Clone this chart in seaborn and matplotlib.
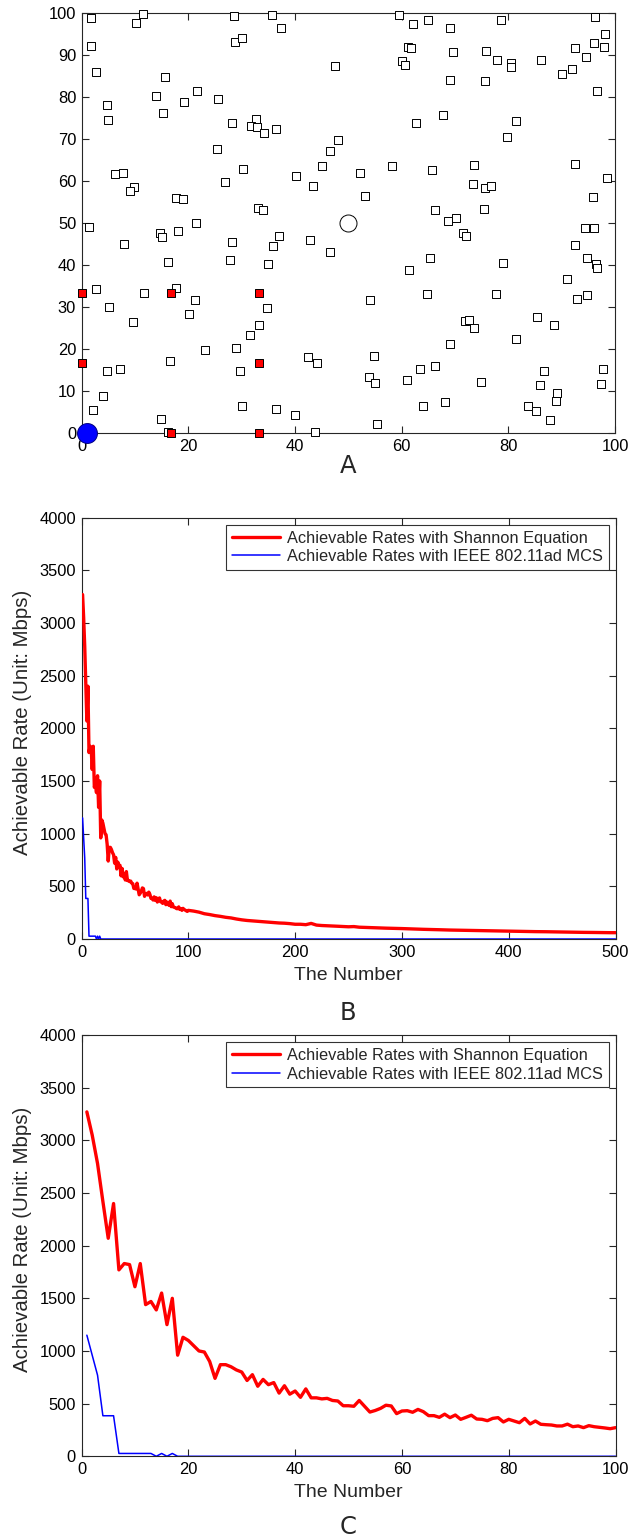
import numpy as np
import pandas as pd
import matplotlib
matplotlib.use("Agg")
import matplotlib.pyplot as plt
import seaborn as sns

# ---------------- Panel A data (node positions) ----------------
sq_x = [1.8, 11.4, 10.2, 28.5, 35.6, 37.3, 28.8, 30.0, 1.8, 47.5, 2.6, 15.7, 13.9, 21.6, 19.1,
        25.6, 4.7, 5.0, 15.3, 28.1, 32.6, 31.7, 32.8, 34.2, 36.5, 48.1, 46.5, 25.4, 45.1, 30.3,
        6.3, 7.8, 40.1, 43.4, 26.9, 9.8, 9.1, 17.6, 18.9, 33.1, 33.9, 21.4, 1.3,
        59.4, 62.2, 64.9, 69.0, 78.6, 96.3, 98.2, 61.2, 61.8, 69.7, 75.8, 77.8, 80.5, 80.5,
        86.1, 92.4, 96.0, 97.9, 94.6, 91.9, 90.0, 60.0, 60.7, 69.1, 75.7, 96.7, 67.8, 62.6,
        81.4, 79.7, 52.1, 58.2, 65.7, 73.6, 92.5, 98.5, 73.4, 75.6, 76.8, 53.1, 95.8, 66.3,
        75.4, 70.1, 68.6,
        14.7, 15.1, 18.1, 8.0, 28.2, 36.9, 35.9, 42.8, 46.6, 16.1, 27.8, 35.0, 2.7, 11.7, 17.6,
        21.3, 5.2, 20.1, 34.7, 9.7, 33.2, 31.6, 23.1, 28.9, 4.7, 7.1, 16.6, 29.7, 42.5, 44.1,
        4.0, 2.2, 30.0, 36.5, 39.9, 14.9, 16.1, 43.8,
        71.4, 72.1, 94.4, 96.1, 92.5, 94.7, 96.4, 96.6, 65.3, 61.4, 79.0, 91.0, 54.1, 64.7,
        77.6, 92.9, 94.7, 85.4, 88.5, 71.9, 72.7, 73.6, 81.4, 69.1, 54.8, 53.9, 55.0, 63.5,
        66.2, 61.0, 74.9, 86.6, 86.0, 97.8, 97.4, 89.1, 88.9, 64.0, 68.2, 83.7, 85.1, 87.8, 55.4]
sq_y = [98.8, 99.8, 97.5, 99.2, 99.4, 96.3, 93.0, 94.1, 92.2, 87.4, 85.8, 84.7, 80.3, 81.4, 78.8,
        79.6, 78.1, 74.5, 76.1, 73.8, 74.8, 73.0, 72.8, 71.5, 72.4, 69.8, 67.1, 67.5, 63.6, 62.8,
        61.7, 62.0, 61.1, 58.9, 59.7, 58.5, 57.5, 55.9, 55.7, 53.6, 53.0, 50.0, 49.1,
        99.5, 97.4, 98.2, 96.3, 98.2, 99.1, 94.9, 91.8, 91.5, 90.7, 90.9, 88.7, 88.1, 87.2,
        88.7, 91.5, 92.7, 91.8, 89.5, 86.6, 85.5, 88.5, 87.5, 84.1, 83.7, 81.5, 75.6, 73.7,
        74.2, 70.5, 61.8, 63.5, 62.5, 63.9, 64.0, 60.8, 59.3, 58.3, 58.9, 56.4, 56.1, 53.2,
        53.3, 51.3, 50.5,
        47.7, 46.7, 48.0, 44.9, 45.6, 46.9, 44.5, 46.0, 43.2, 40.8, 41.3, 40.2, 34.4, 33.4, 34.5,
        31.6, 30.0, 28.4, 29.9, 26.5, 25.7, 23.4, 19.7, 20.4, 14.7, 15.3, 17.3, 14.9, 18.2, 16.7,
        8.8, 5.5, 6.6, 5.8, 4.4, 3.4, 0.3, 0.3,
        47.7, 46.9, 48.7, 48.8, 44.7, 41.7, 40.3, 39.4, 41.6, 38.8, 40.4, 36.7, 31.7, 33.1,
        33.1, 31.9, 32.9, 27.7, 25.7, 26.7, 26.9, 25.0, 22.4, 21.2, 18.4, 13.3, 12.0, 15.2,
        15.9, 12.6, 12.1, 14.7, 11.4, 15.2, 11.7, 9.7, 7.7, 6.6, 7.4, 6.6, 5.3, 3.2, 2.1]
red_x = [0, 16.7, 33.3, 0, 33.3, 16.7, 33.3]
red_y = [33.3, 33.3, 33.3, 16.7, 16.7, 0, 0]
center_x = [50]
center_y = [50]
bs_x = [1]
bs_y = [0]

# ---------------- Panels B/C data ----------------
num_c = list(range(1, 101))
shannon_c = [3270, 3050, 2780, 2420, 2070, 2400, 1770, 1830, 1820, 1610,
             1830, 1440, 1470, 1390, 1550, 1250, 1500, 960, 1130, 1100,
             1050, 1000, 990, 900, 740, 870, 870, 850, 820, 800,
             720, 775, 665, 730, 680, 700, 600, 670, 590, 620,
             560, 640, 555, 555, 545, 550, 530, 525, 480, 480,
             475, 530, 475, 420, 435, 455, 485, 478, 405, 430,
             433, 418, 445, 424, 386, 386, 370, 400, 367, 392,
             351, 370, 390, 354, 351, 338, 360, 367, 326, 351,
             335, 319, 360, 307, 335, 304, 300, 297, 288, 288,
             305, 281, 288, 272, 291, 281, 275, 269, 262, 272]
mcs_c = [1150, 960, 770, 385, 385, 385, 27, 27, 27, 27,
         27, 27, 27, 0, 27, 0, 27, 0, 0, 0] + [0] * 80

tail_num = list(range(105, 501, 5))
tail_shannon = [265, 255, 240, 232, 222, 215, 206, 200, 190, 182,
                176, 172, 168, 163, 160, 156, 152, 150, 146, 140,
                140, 136, 148, 132, 128, 126, 123, 121, 118, 116,
                118, 112, 110, 108, 106, 104, 103, 102, 100, 99,
                97, 95, 93, 92, 91, 89, 88, 86, 85, 84,
                83, 82, 81, 80, 79, 78, 77, 76, 76, 75,
                74, 73, 72, 71, 70, 70, 69, 68, 67, 66,
                66, 65, 64, 63, 63, 62, 61, 61, 60, 60]
tail_mcs = [0] * len(tail_num)

lab_shannon = "Achievable Rates with Shannon Equation"
lab_mcs = "Achievable Rates with IEEE 802.11ad MCS"

# ---------------- style ----------------
sns.set_theme(style="ticks")
plt.rcParams["font.family"] = ["Liberation Sans", "DejaVu Sans"]
spine_col = "#262626"

fig = plt.figure(figsize=(6.29, 15.36), dpi=100)


def style_axes(ax, fs=11.9):
    for s in ax.spines.values():
        s.set_visible(True)
        s.set_linewidth(0.8)
        s.set_color(spine_col)
    ax.tick_params(direction="in", top=True, right=True, length=5, width=0.8,
                   color=spine_col, labelsize=fs, labelcolor="black", pad=4)


# ---------------- Panel A ----------------
axA = fig.add_axes([0.1299, 0.7179, 0.8479, 0.2738])
dfs = pd.DataFrame({"x": sq_x, "y": sq_y})
sns.scatterplot(data=dfs, x="x", y="y", marker="s", s=32, facecolor="white",
                edgecolor="black", linewidth=0.7, ax=axA, clip_on=False, zorder=3)
dfr = pd.DataFrame({"x": red_x, "y": red_y})
sns.scatterplot(data=dfr, x="x", y="y", marker="s", s=32, color="#ff0000",
                edgecolor="black", linewidth=0.7, ax=axA, clip_on=False, zorder=4)
sns.scatterplot(x=center_x, y=center_y, marker="o", s=150, facecolor="white",
                edgecolor="black", linewidth=0.7, ax=axA, clip_on=False, zorder=4)
sns.scatterplot(x=bs_x, y=bs_y, marker="o", s=205, color="#0000ff",
                edgecolor="#000080", linewidth=0.7, ax=axA, clip_on=False, zorder=5)
axA.set_xlim(0, 100)
axA.set_ylim(0, 100)
axA.set_xticks(range(0, 101, 20))
axA.set_yticks(range(0, 101, 10))
axA.set_xlabel("")
axA.set_ylabel("")
style_axes(axA)

# ---------------- Panels B and C ----------------
def rate_panel(rect, xs_s, ys_s, xs_m, ys_m, xmax, xticks):
    ax = fig.add_axes(rect)
    sns.lineplot(x=xs_s, y=ys_s, color="#ff0000", lw=2.4, label=lab_shannon,
                 ax=ax, estimator=None, sort=False, zorder=3)
    sns.lineplot(x=xs_m, y=ys_m, color="#0000ff", lw=1.1, label=lab_mcs,
                 ax=ax, estimator=None, sort=False, zorder=4)
    ax.set_xlim(0, xmax)
    ax.set_ylim(0, 4000)
    ax.set_xticks(xticks)
    ax.set_yticks(range(0, 4001, 500))
    ax.set_xlabel("The Number", fontsize=14)
    ax.set_ylabel("Achievable Rate (Unit: Mbps)", fontsize=14.7)
    ax.xaxis.set_label_coords(0.5, -0.066)
    ax.yaxis.set_label_coords(-0.092, 0.515)
    style_axes(ax)
    leg = ax.legend(loc="upper right", bbox_to_anchor=(0.987, 0.983), frameon=True,
                    fancybox=False, edgecolor="black", fontsize=11.8, handlelength=2.9,
                    handletextpad=0.45, borderpad=0.35, labelspacing=0.22,
                    borderaxespad=0)
    leg.get_frame().set_linewidth(0.8)
    return ax


rate_panel([0.1296, 0.38867, 0.849, 0.27428],
           num_c + tail_num, shannon_c + tail_shannon,
           num_c + tail_num, mcs_c + tail_mcs, 500, range(0, 501, 100))
rate_panel([0.1296, 0.05189, 0.849, 0.27428],
           num_c, shannon_c, num_c, mcs_c, 100, range(0, 101, 20))

for lab, ypx in (("A", 466), ("B", 1013), ("C", 1527)):
    fig.text(348 / 629, 1 - ypx / 1536, lab, ha="center", va="center",
             fontsize=17.5, family=["DejaVu Sans"])

fig.savefig("out.png", dpi=100)
